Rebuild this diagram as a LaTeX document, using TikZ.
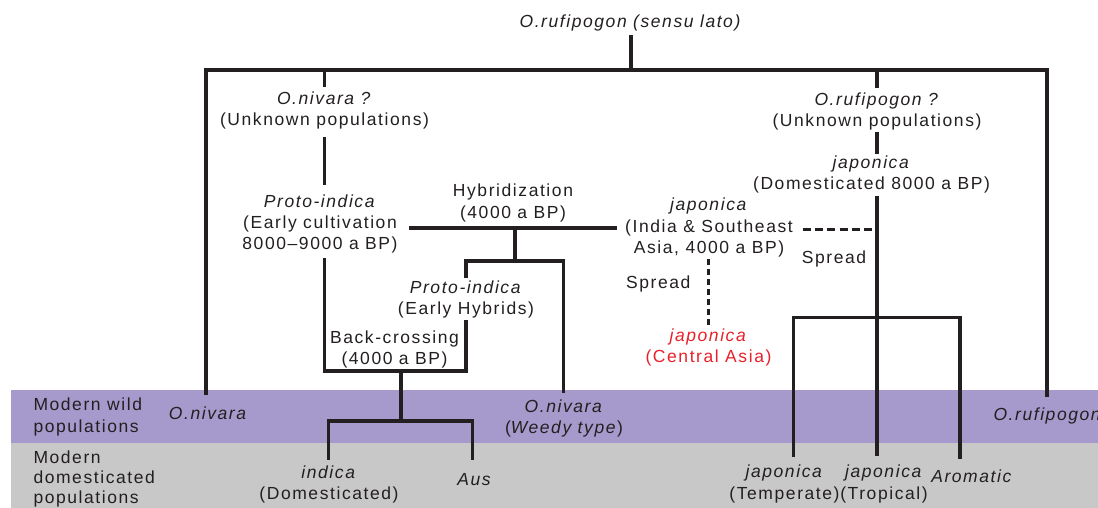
\documentclass[tikz,border=0pt]{standalone}
\usepackage{fontspec}
\setmainfont{Liberation Sans}[LetterSpace=9.0]
\usepackage{tikz}
\definecolor{wildband}{HTML}{A59ACB}
\definecolor{domband}{HTML}{C8C8C8}
\definecolor{ink}{HTML}{231F20}
\definecolor{spreadred}{HTML}{E8202A}
\tikzset{
  txt/.style={align=center, inner sep=2pt, text=ink, font=\fontsize{17.5}{21.3}\selectfont},
  tree/.style={draw=ink, line width=3.5pt, line join=miter},
  spreadh/.style={draw=ink, line width=3.5pt, dash pattern=on 8pt off 4.3pt},
  spreadv/.style={draw=ink, line width=3.5pt, dash pattern=on 6pt off 4pt}
}
\begin{document}
\begin{tikzpicture}[x=1pt,y=-1pt]
\useasboundingbox (0,0) rectangle (1098,508);
% bands
\fill[wildband] (10.7,390) rectangle (1098,443.3);
\fill[domband] (10.7,443.3) rectangle (1098,508);
\node[txt,anchor=west,align=left] (wildlbl) at (31.3,417.1) {Modern wild\\populations};
\node[txt,anchor=west,align=left] (domlbl) at (31.3,479) {Modern\\[-1.2pt]domesticated\\[-1.2pt]populations};
% taxa
\node[txt] (root) at (630,22.9) {\itshape O.rufipogon (sensu lato)};
\node[txt] (nivq) at (324.5,110.8) {\textit{O.nivara ?}\\(Unknown populations)};
\node[txt] (rufq) at (877,111.3) {\textit{O.rufipogon ?}\\(Unknown populations)};
\node[txt] (japdom) at (871.5,174.8) {\textit{japonica}\\(Domesticated 8000 a BP)};
\node[txt] (protoind) at (320,224) {\textit{Proto-indica}\\(Early cultivation\\8000–9000 a BP)};
\node[txt] (hybr) at (513,203) {Hybridization\\(4000 a BP)};
\node[txt] (japis) at (709,227.7) {\textit{japonica}\\(India \& Southeast\\Asia, 4000 a BP)};
\node[txt] (protohyb) at (466,299.3) {\textit{Proto-indica}\\(Early Hybrids)};
\node[txt] (backx) at (394.5,349.6) {Back-crossing\\(4000 a BP)};
\node[txt] (spreadl) at (658.3,284) {Spread};
\node[txt] (spreadr) at (834,259) {Spread};
\node[txt,text=spreadred] (japca) at (708.5,347.3) {\textit{japonica}\\(Central Asia)};
\node[txt] (wildl) at (207.5,413.1) {\itshape O.nivara};
\node[txt] (weedy) at (564,418.6) {\textit{O.nivara}\\(\textit{Weedy type})};
\node[txt,anchor=west] (rufw) at (991.3,416.3) {\itshape O.rufipogon};
\node[txt] (indica) at (329,484.6) {\textit{indica}\\(Domesticated)};
\node[txt] (aus) at (474,479.9) {\itshape Aus};
\node[txt] (japtemp) at (784.5,484) {\textit{japonica}\\(Temperate)};
\node[txt] (japtrop) at (884,484) {\textit{japonica}\\(Tropical)};
\node[txt] (arom) at (971.3,476.6) {\itshape Aromatic};
% junctions
\coordinate (bar) at (631,70);
\coordinate (hj) at (515,228);
\coordinate (hk) at (515,261);
\coordinate (bx) at (401,371);
\coordinate (bj) at (401,421);
\coordinate (rj) at (877,317.3);
\coordinate (dj) at (877,229.3);
% lines
\draw[tree,shorten <=2pt] (root.south -| bar) -- (bar);
\draw[tree] ([xshift=-1.5pt,yshift=9pt]wildl.north) |- (bar) -| ([yshift=8.6pt]rufw.north);
\draw[tree,shorten <=3pt] (nivq.north) -- (nivq.north |- bar);
\draw[tree,shorten <=2.7pt] (rufq.north) -- (rufq.north |- bar);
\draw[tree,shorten <=5.6pt,shorten >=7.8pt] (nivq.south) -- (nivq.south |- protoind.north);
\draw[tree,shorten <=2.8pt] (nivq.south |- protoind.south) |- (bx) -| (protohyb.south);
\draw[tree,shorten <=9pt,shorten >=5.7pt] (protoind.east |- hj) -- (japis.west |- hj);
\draw[tree] (hj) -- (hk);
\draw[tree] (protohyb.north) |- (hk) -| ([xshift=-0.7pt,yshift=4.8pt]weedy.north);
\draw[tree] (bx) -- (bj);
\draw[tree] ([xshift=-0.7pt,yshift=4pt]indica.north) |- (bj) -| ([xshift=-1.7pt,yshift=11.8pt]aus.north);
\draw[tree] (rufq.south) -- (rufq.south |- japdom.north);
\draw[tree] (rufq.south |- japdom.south) -- (rj);
\draw[tree] ([xshift=8.8pt,yshift=6.2pt]japtemp.north) |- (rj) -| ([xshift=-11.3pt,yshift=9.2pt]arom.north);
\draw[tree,shorten >=6.8pt] (rj) -- (rj |- japtrop.north);
\draw[spreadh,shorten <=7.7pt] (japis.east |- dj) -- (dj);
\draw[spreadv] (japca.north |- japis.south) -- (japca.north);
\end{tikzpicture}
\end{document}
